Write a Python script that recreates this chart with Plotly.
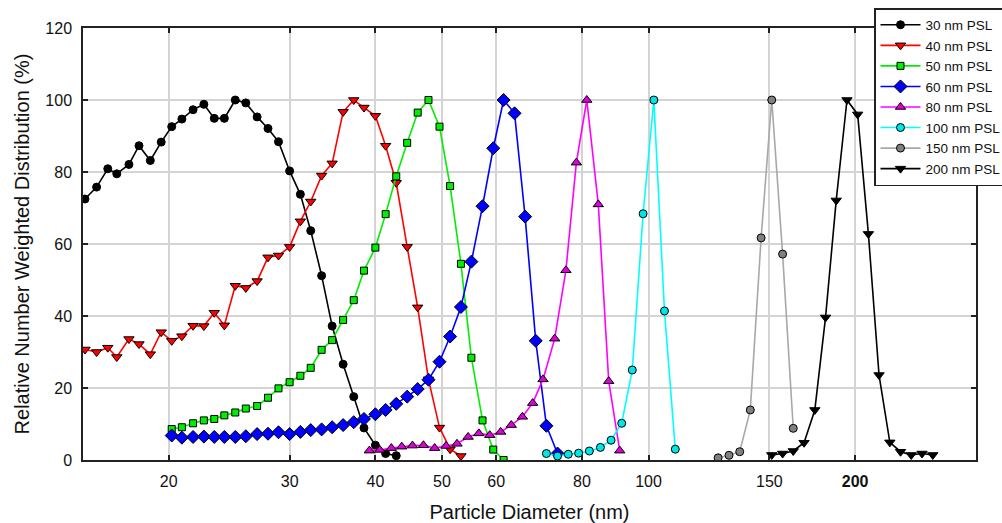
import plotly.graph_objects as go
import math

# ---- data ----
d30_x = [15.1, 15.7, 16.3, 16.8, 17.5, 18.1, 18.8, 19.5, 20.2, 20.9, 21.7, 22.5, 23.3, 24.1, 25.0,
         25.9, 26.9, 27.9, 28.9, 30.0, 31.1, 32.2, 33.4, 34.6, 35.9, 37.2, 38.5, 40.0, 41.4, 42.9]
d30_y = [72.5, 75.8, 80.9, 79.5, 82.1, 87.3, 83.2, 88.3, 92.6, 94.7, 97.3, 98.8, 94.9, 94.9, 100.0,
         99.2, 95.3, 92.1, 88.4, 80.3, 73.8, 63.7, 51.2, 37.2, 26.6, 17.6, 8.9, 4.1, 1.8, 1.2]

d40_x = [15.1, 15.7, 16.3, 16.8, 17.5, 18.1, 18.8, 19.5, 20.2, 20.9, 21.7, 22.5, 23.3, 24.1, 25.0,
         25.9, 26.9, 27.9, 28.9, 30.0, 31.1, 32.2, 33.4, 34.6, 35.9, 37.2, 38.5, 40.0, 41.4, 42.9,
         44.5, 46.1, 47.8, 49.6, 51.4, 53.3]
d40_y = [30.7, 30.0, 31.2, 28.6, 33.6, 32.2, 29.4, 35.5, 33.1, 34.4, 37.3, 37.2, 40.9, 37.4, 48.4,
         47.8, 49.7, 56.3, 56.8, 59.2, 66.3, 71.8, 79.0, 82.4, 96.7, 100.0, 97.9, 95.6, 87.3, 77.0,
         59.2, 42.4, 22.4, 9.0, 3.0, 1.1]

d50_x = [20.2, 20.9, 21.7, 22.5, 23.3, 24.1, 25.0, 25.9, 26.9, 27.9, 28.9, 30.0, 31.1, 32.2, 33.4,
         34.6, 35.9, 37.2, 38.5, 40.0, 41.4, 42.9, 44.5, 46.1, 47.8, 49.6, 51.4, 53.3, 55.2, 57.3,
         59.4, 61.5]
d50_y = [8.6, 9.1, 10.2, 11.0, 11.4, 12.4, 13.2, 14.3, 15.0, 17.3, 19.9, 21.6, 23.4, 25.6, 30.6,
         33.3, 38.9, 44.4, 52.6, 59.0, 68.3, 78.8, 88.1, 96.5, 100.0, 92.6, 76.1, 54.5, 28.4, 11.0,
         2.9, 0.0]

d60_x = [20.2, 20.9, 21.7, 22.5, 23.3, 24.1, 25.0, 25.9, 26.9, 27.9, 28.9, 30.0, 31.1, 32.2, 33.4,
         34.6, 35.9, 37.2, 38.5, 40.0, 41.4, 42.9, 44.5, 46.1, 47.8, 49.6, 51.4, 53.3, 55.2, 57.3,
         59.4, 61.5, 63.8, 66.1, 68.5, 71.0, 73.7]
d60_y = [6.8, 6.2, 6.4, 6.5, 6.4, 6.4, 6.4, 6.6, 7.2, 7.3, 7.7, 7.2, 7.8, 8.3, 8.5,
         9.1, 9.7, 10.5, 11.4, 12.7, 13.9, 15.6, 17.6, 19.7, 22.3, 27.3, 34.3, 42.5, 55.1, 70.5,
         86.6, 100.0, 96.3, 67.6, 33.1, 9.5, 1.8]

d80_x = [39.2, 40.6, 42.2, 43.7, 45.3, 47.0, 48.8, 50.7, 52.6, 54.6, 56.6, 58.7, 60.9, 63.1,
         65.5, 67.8, 70.2, 73.0, 75.8, 78.5, 81.3, 84.5, 87.5, 90.8]
d80_y = [2.6, 2.8, 3.3, 3.7, 4.0, 4.1, 3.3, 3.9, 4.5, 6.4, 7.4, 6.9, 7.8, 9.7,
         12.0, 15.8, 22.4, 33.7, 52.7, 82.6, 100.0, 71.0, 21.9, 2.6]

d100_x = [71.0, 73.7, 76.4, 79.1, 82.0, 85.1, 88.2, 91.4, 94.7, 98.2, 101.8, 105.5, 109.4]
d100_y = [1.8, 1.1, 1.6, 1.9, 2.5, 3.5, 5.5, 10.2, 25.0, 68.4, 100.0, 41.4, 3.0]

d150_x = [126.3, 131.0, 135.8, 140.7, 145.9, 151.2, 156.8, 162.5]
d150_y = [0.6, 1.3, 2.3, 13.9, 61.7, 100.0, 57.2, 8.8]

d200_x = [151.2, 156.8, 162.5, 168.5, 174.7, 181.1, 187.7, 194.6, 201.7, 209.1, 216.7, 224.7,
          232.9, 241.4, 250.3, 259.5]
d200_y = [1.4, 1.8, 2.5, 4.8, 13.9, 39.6, 72.1, 100.0, 96.0, 62.8, 23.6, 4.9,
          2.3, 1.4, 1.8, 1.4]

series_names = ["30 nm PSL", "40 nm PSL", "50 nm PSL", "60 nm PSL",
                "80 nm PSL", "100 nm PSL", "150 nm PSL", "200 nm PSL"]

x_tickvals = [20, 30, 40, 50, 60, 80, 100, 150, 200]
x_ticktext = ["20", "30", "40", "50", "60", "80", "100", "150", "<b>200</b>"]
y_tickvals = [0, 20, 40, 60, 80, 100, 120]

# ---- styles ----
styles = [
    dict(line="#000000", fill="#000000", symbol="circle", size=8),
    dict(line="#ff0000", fill="#ff0000", symbol="triangle-down", size=9),
    dict(line="#00ee00", fill="#00ee00", symbol="square", size=7),
    dict(line="#0000ff", fill="#0000ff", symbol="diamond", size=10),
    dict(line="#ff00ff", fill="#dd00dd", symbol="triangle-up", size=9),
    dict(line="#00ffff", fill="#00e5e5", symbol="circle", size=8),
    dict(line="#a8a8a8", fill="#808080", symbol="circle", size=8),
    dict(line="#000000", fill="#000000", symbol="triangle-down", size=9),
]

data = [(d30_x, d30_y), (d40_x, d40_y), (d50_x, d50_y), (d60_x, d60_y),
        (d80_x, d80_y), (d100_x, d100_y), (d150_x, d150_y), (d200_x, d200_y)]

FONT = "Liberation Sans, Arial, sans-serif"

fig = go.Figure()
for (xs, ys), name, st in zip(data, series_names, styles):
    fig.add_trace(go.Scatter(
        x=xs, y=ys, name=name, mode="lines+markers",
        line=dict(color=st["line"], width=1.6),
        marker=dict(symbol=st["symbol"], size=st["size"], color=st["fill"],
                    line=dict(color="#000000", width=1)),
    ))

axis_common = dict(
    showgrid=True, gridcolor="#d4d4d4", gridwidth=1.5,
    showline=True, linecolor="#222222", linewidth=1.5, mirror="ticks",
    ticks="inside", ticklen=5, tickwidth=1.5, tickcolor="#222222",
    tickfont=dict(family=FONT, size=16, color="#111111"),
    zeroline=False,
)

fig.update_layout(
    width=1002, height=523,
    margin=dict(l=83, r=26, t=28, b=63, autoexpand=False),
    paper_bgcolor="white", plot_bgcolor="white",
    font=dict(family=FONT, color="#111111"),
    xaxis=dict(
        type="log", range=[math.log10(15), math.log10(300)],
        tickmode="array", tickvals=x_tickvals, ticktext=x_ticktext,
        ticklabelstandoff=6,
        title=dict(text="Particle Diameter (nm)", font=dict(family=FONT, size=20), standoff=19),
        **axis_common,
    ),
    yaxis=dict(
        range=[0, 120], tickmode="array", tickvals=y_tickvals,
        ticklabelstandoff=6,
        title=dict(text="Relative Number Weighted Distribution (%)", font=dict(family=FONT, size=20), standoff=10),
        **axis_common,
    ),
    legend=dict(
        x=(874 - 83) / 893, y=(460 - 8) / 432, xanchor="left", yanchor="top",
        bgcolor="white", bordercolor="#222222", borderwidth=1.5,
        itemwidth=40,
        font=dict(family=FONT, size=13.5, color="#111111"),
    ),
    showlegend=True,
)

fig.write_html("out.html")
